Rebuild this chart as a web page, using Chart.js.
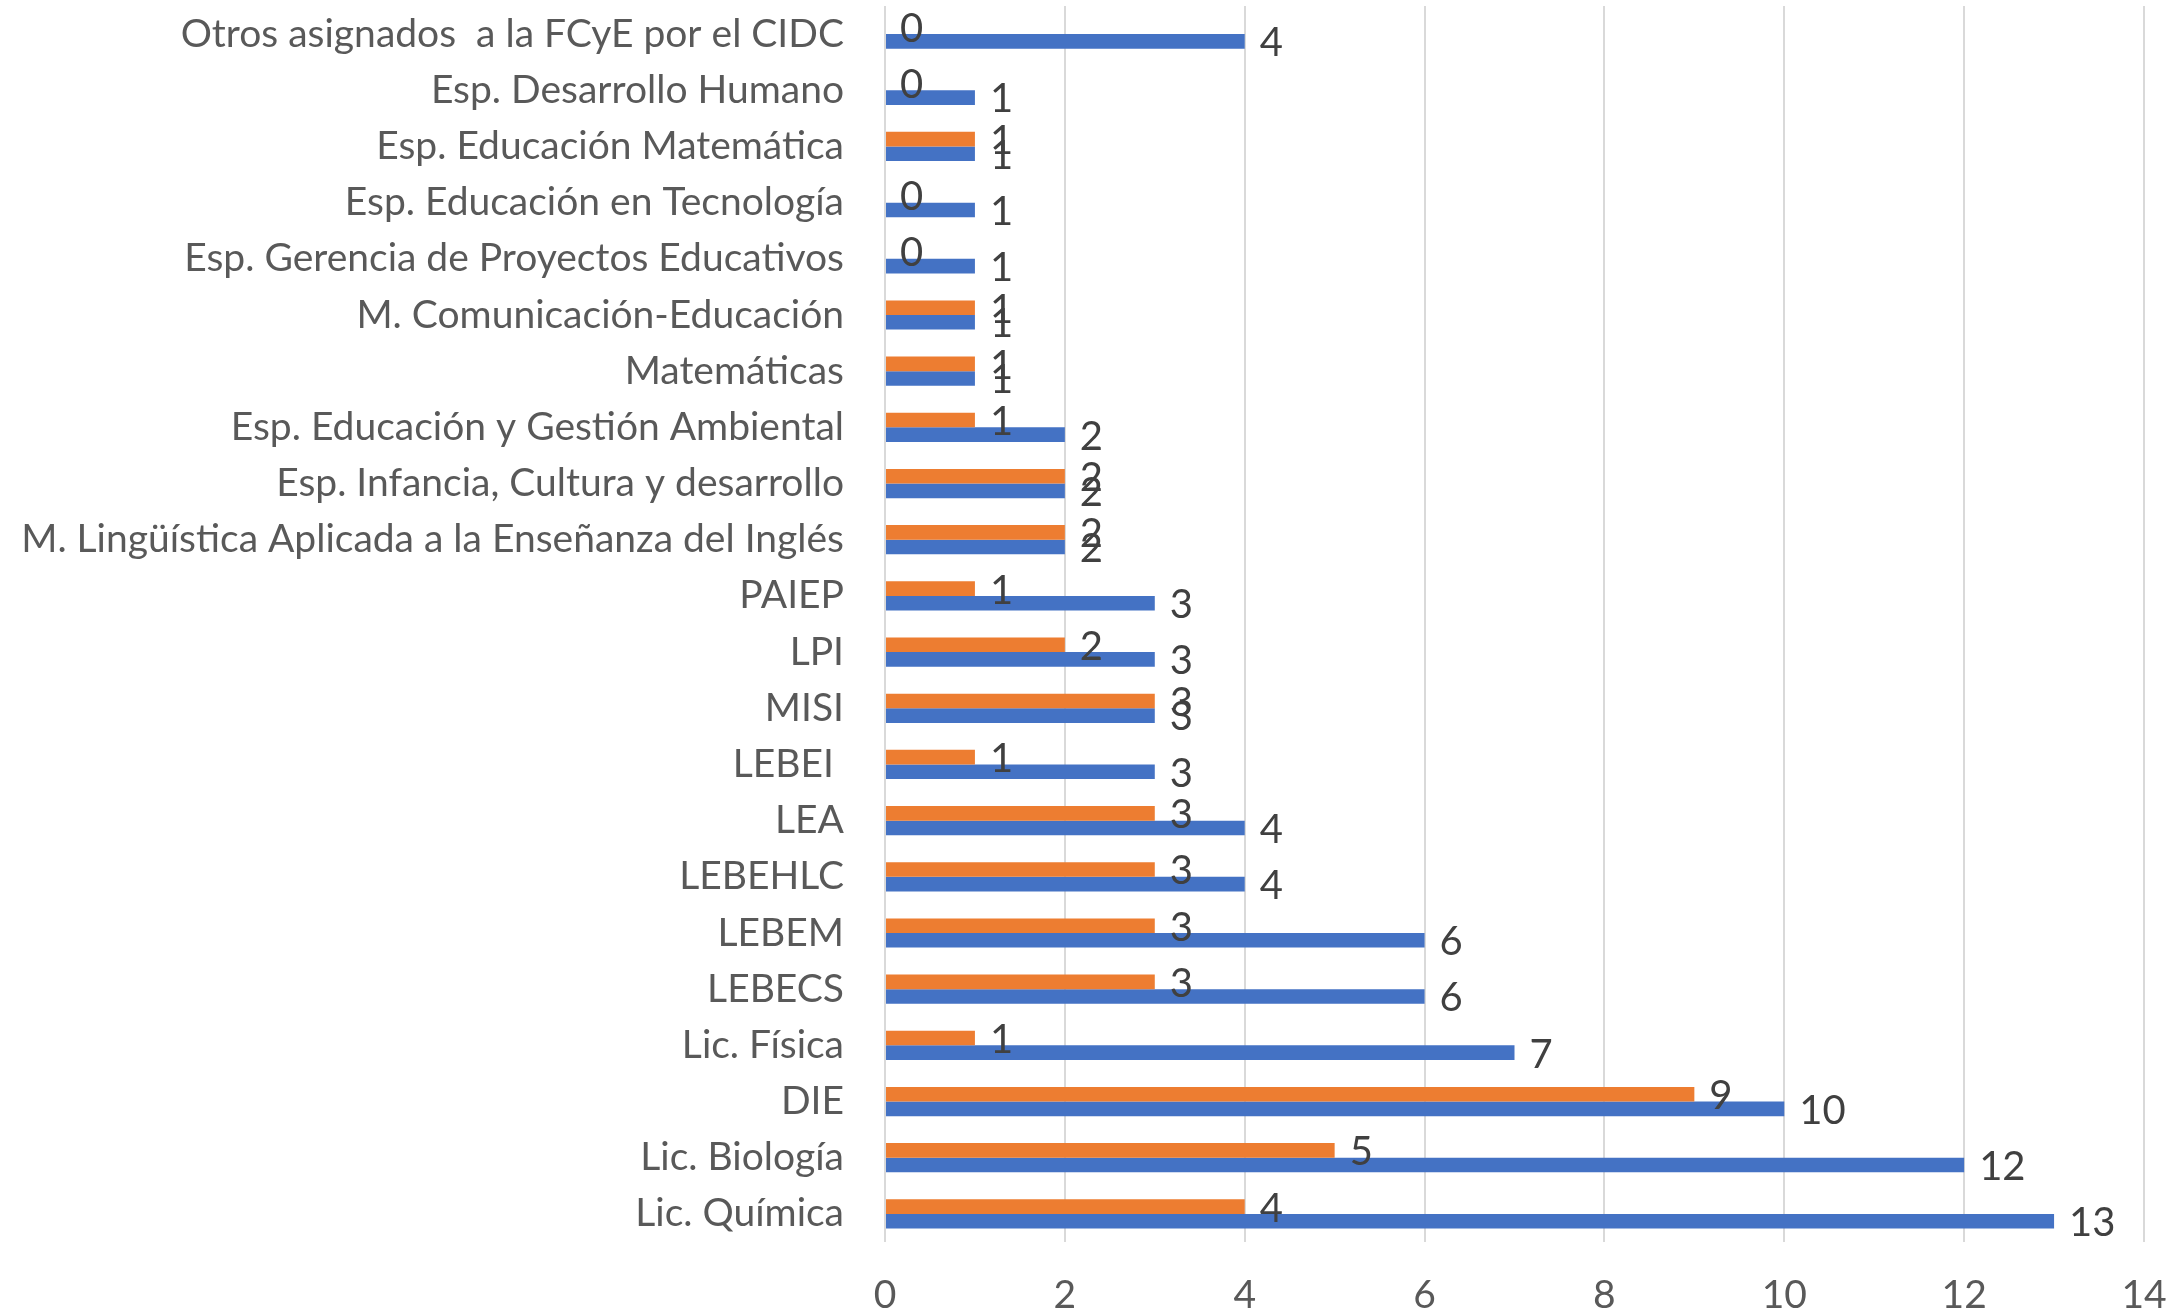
<!DOCTYPE html>
<html>
<head>
<meta charset="utf-8">
<script src="https://cdn.jsdelivr.net/npm/chart.js@4"></script>
<style>
  html, body { margin: 0; padding: 0; background: #ffffff; }
  canvas { display: block; }
</style>
</head>
<body>
<canvas id="barChart" width="2174" height="1316"></canvas>
<script>
  // categories, top to bottom as they appear in the chart
  const programs = [
    "Otros asignados  a la FCyE por el CIDC",
    "Esp. Desarrollo Humano",
    "Esp. Educación Matemática",
    "Esp. Educación en Tecnología",
    "Esp. Gerencia de Proyectos Educativos",
    "M. Comunicación-Educación",
    "Matemáticas",
    "Esp. Educación y Gestión Ambiental",
    "Esp. Infancia, Cultura y desarrollo",
    "M. Lingüística Aplicada a la Enseñanza del Inglés",
    "PAIEP",
    "LPI",
    "MISI",
    "LEBEI ",
    "LEA",
    "LEBEHLC",
    "LEBEM",
    "LEBECS",
    "Lic. Física",
    "DIE",
    "Lic. Biología",
    "Lic. Química"
  ];

  const orangeValues = [0, 0, 1, 0, 0, 1, 1, 1, 2, 2, 1, 2, 3, 1, 3, 3, 3, 3, 1, 9, 5, 4];
  const blueValues = [4, 1, 1, 1, 1, 1, 1, 2, 2, 2, 3, 3, 3, 3, 4, 4, 6, 6, 7, 10, 12, 13];

  const xTicks = [0, 2, 4, 6, 8, 10, 12, 14];

  const fontFamily = "Lato, 'Open Sans', sans-serif";
  const fontSize = 39;

  // draws the value next to the end of each bar (no datalabels plugin available)
  const valueLabels = {
    id: "valueLabels",
    afterDatasetsDraw(chart) {
      const ctx = chart.ctx;
      ctx.save();
      ctx.font = (fontSize + 1) + "px " + fontFamily;
      ctx.fillStyle = "#404040";
      ctx.textAlign = "left";
      ctx.textBaseline = "middle";
      chart.data.datasets.forEach((ds, i) => {
        const meta = chart.getDatasetMeta(i);
        meta.data.forEach((bar, j) => {
          ctx.fillText(String(ds.data[j]), bar.x + 15, bar.y + 2);
        });
      });
      ctx.restore();
    }
  };

  new Chart(document.getElementById("barChart"), {
    type: "bar",
    plugins: [valueLabels],
    data: {
      labels: programs,
      datasets: [
        {
          data: orangeValues,
          backgroundColor: "#ED7D31",
          categoryPercentage: 0.52,
          barPercentage: 1.0
        },
        {
          data: blueValues,
          backgroundColor: "#4472C4",
          categoryPercentage: 0.52,
          barPercentage: 1.0
        }
      ]
    },
    options: {
      indexAxis: "y",
      responsive: false,
      animation: false,
      layout: { padding: { top: 6, right: 30, left: 0, bottom: 0 } },
      plugins: {
        legend: { display: false },
        tooltip: { enabled: false }
      },
      scales: {
        x: {
          min: 0,
          max: 14,
          afterBuildTicks: (scale) => {
            scale.ticks = xTicks.map(v => ({ value: v }));
          },
          afterFit: (scale) => {
            scale.height = 74;
            scale.paddingLeft = 0;
            scale.paddingRight = 0;
          },
          grid: { color: "#d9d9d9", lineWidth: 2, drawTicks: false },
          border: { display: false },
          ticks: {
            color: "#595959",
            padding: 30,
            maxRotation: 0,
            font: { family: fontFamily, size: fontSize }
          }
        },
        y: {
          afterFit: (scale) => {
            scale.width = 885;
            scale.paddingTop = 0;
            scale.paddingBottom = 0;
          },
          grid: { display: false },
          border: { display: false },
          ticks: {
            color: "#595959",
            padding: 33,
            autoSkip: false,
            font: { family: fontFamily, size: fontSize }
          }
        }
      }
    }
  });
</script>
</body>
</html>
